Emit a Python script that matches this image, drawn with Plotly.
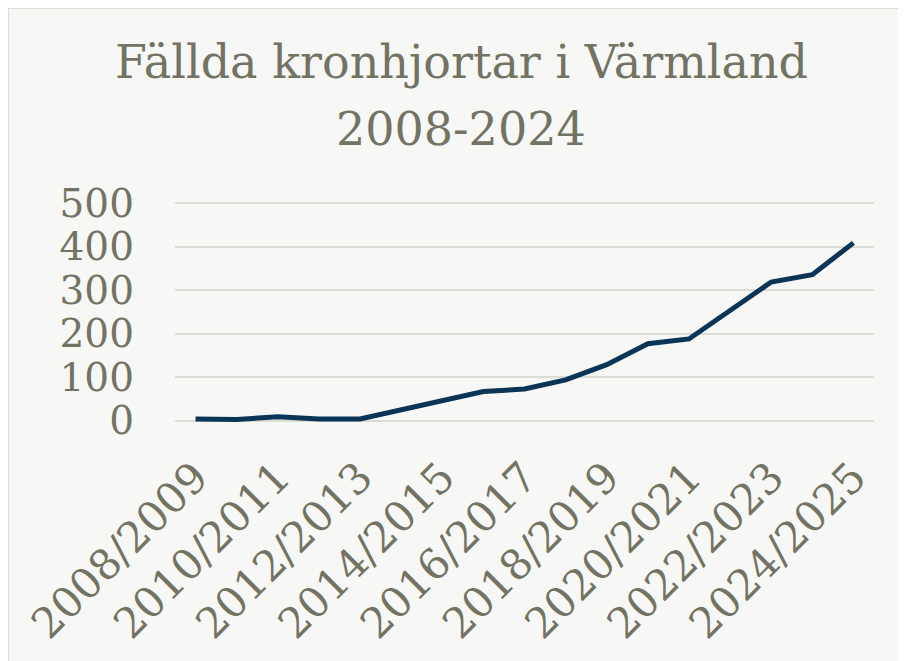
import plotly.graph_objects as go

seasons = ["2008/2009", "2009/2010", "2010/2011", "2011/2012", "2012/2013",
           "2013/2014", "2014/2015", "2015/2016", "2016/2017", "2017/2018",
           "2018/2019", "2019/2020", "2020/2021", "2021/2022", "2022/2023",
           "2023/2024", "2024/2025"]
felled = [4, 3, 9, 4, 4, 25, 46, 67, 73, 94, 129, 177, 188, 253, 319, 336, 409]
shown_ticks = seasons[::2]
y_ticks = [0, 100, 200, 300, 400, 500]
title_lines = ["Fällda kronhjortar i Värmland", "2008-2024"]

TXT = "#737363"
BG = "#f7f7f5"
FONT = "DejaVu Serif"

fig = go.Figure()
fig.add_trace(go.Scatter(
    x=seasons, y=felled, mode="lines",
    line=dict(color="#0b3556", width=5),
    hoverinfo="skip",
))

# page has an 8px body margin; positions below are figure pixels
W, H = 906, 661
OFF = 8
L, T = 175 - OFF, 194
pw, ph = 699, 220
R, B = W - L - pw, H - T - ph


def px_x(pix):
    return (pix - OFF - L) / pw


def py(pix):
    return (T + ph - (pix - OFF)) / ph


annotations = [
    dict(text=title_lines[0], xref="paper", yref="paper",
         x=px_x(461), y=py(91), xanchor="center", yanchor="bottom",
         showarrow=False, font=dict(family=FONT, size=46, color=TXT)),
    dict(text=title_lines[1], xref="paper", yref="paper",
         x=px_x(461), y=py(158), xanchor="center", yanchor="bottom",
         showarrow=False, font=dict(family=FONT, size=46, color=TXT)),
]

fig.update_layout(
    width=W, height=H,
    margin=dict(l=L, r=R, t=T, b=B, autoexpand=False),
    paper_bgcolor=BG,
    plot_bgcolor=BG,
    showlegend=False,
    font=dict(family=FONT, color=TXT),
    annotations=annotations,
    shapes=[dict(
        type="rect", xref="paper", yref="paper", layer="below",
        x0=-L / pw + 0.0007, x1=(pw + R) / pw,
        y0=-B / ph, y1=(ph + T) / ph - 0.002,
        fillcolor=BG, line=dict(color="#dcdcd8", width=1.2),
    )],
    xaxis=dict(
        type="category", range=[-0.5, len(seasons) - 0.5],
        tickmode="array", tickvals=shown_ticks, ticktext=shown_ticks,
        tickangle=-45, tickfont=dict(family=FONT, size=42, color=TXT),
        showgrid=False, zeroline=False, showline=False, ticks="",
        automargin=False, ticklabelstandoff=21,
    ),
    yaxis=dict(
        range=[-3, 503], tickvals=y_ticks,
        tickfont=dict(family=FONT, size=39, color=TXT),
        showgrid=True, gridcolor="#dcdcd6", gridwidth=1.5,
        zeroline=False, showline=False, ticks="", ticklabelstandoff=40,
        automargin=False,
    ),
)

fig.write_html("out.html")
